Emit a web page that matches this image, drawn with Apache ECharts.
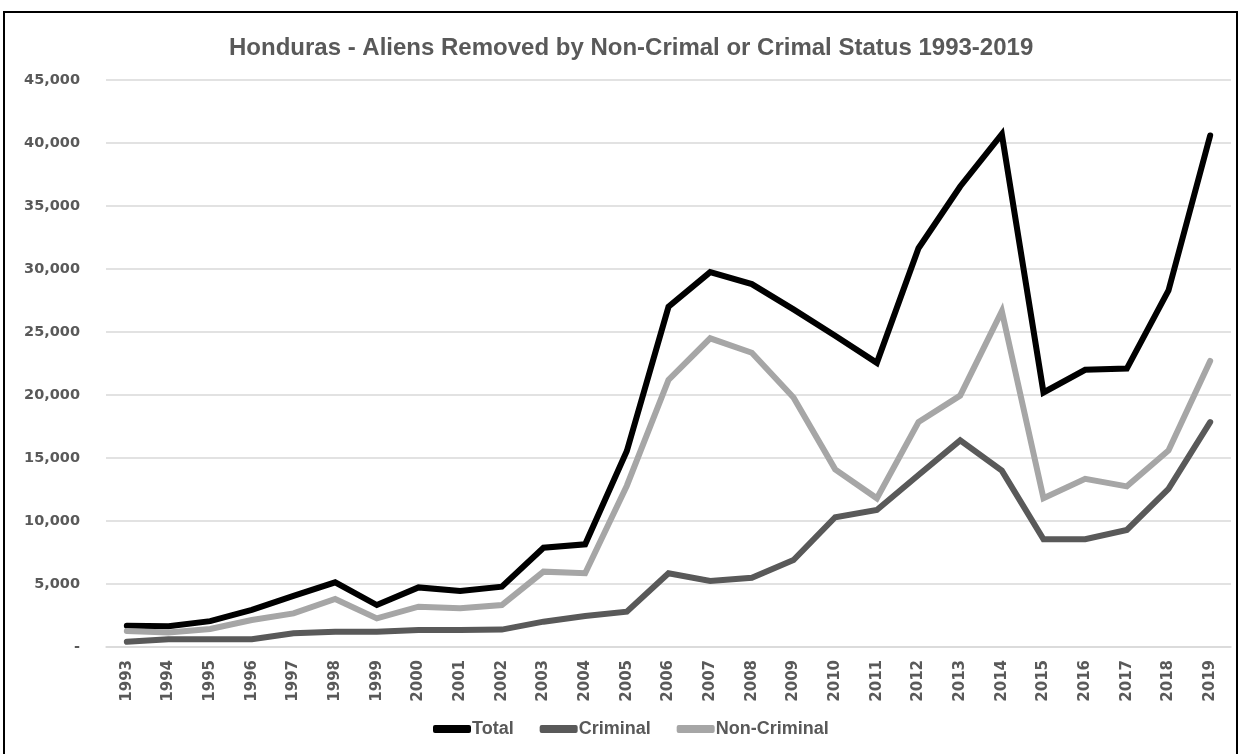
<!DOCTYPE html>
<html>
<head>
<meta charset="utf-8">
<title>Honduras - Aliens Removed</title>
<script src="https://cdn.jsdelivr.net/npm/echarts@6/dist/echarts.min.js"></script>
<style>
  html, body { margin: 0; padding: 0; background: #fff; }
  #chart { width: 1241px; height: 754px; }
</style>
</head>
<body>
<div id="chart"></div>
<script>
// Fiscal years on the category axis
const years = ['1993','1994','1995','1996','1997','1998','1999','2000','2001','2002',
  '2003','2004','2005','2006','2007','2008','2009','2010','2011','2012',
  '2013','2014','2015','2016','2017','2018','2019'];

// Removals per year
const total = [1690, 1650, 2050, 2950, 4050, 5130, 3330, 4730, 4440, 4790,
  7880, 8150, 15550, 27000, 29750, 28800, 26800, 24700, 22550, 31650,
  36550, 40700, 20200, 22000, 22100, 28300, 40600];
const criminal = [420, 610, 610, 610, 1090, 1220, 1220, 1350, 1350, 1380,
  2010, 2460, 2800, 5850, 5240, 5500, 6900, 10300, 10870, 13650,
  16400, 14000, 8550, 8550, 9290, 12550, 17850];
const nonCriminal = [1270, 1160, 1430, 2140, 2670, 3810, 2270, 3200, 3070, 3330,
  5980, 5850, 12800, 21200, 24500, 23350, 19800, 14100, 11800, 17850,
  19950, 26650, 11800, 13350, 12750, 15600, 22700];

// Value axis ticks
const yMin = 0, yMax = 45000, yStep = 5000;

const chart = echarts.init(document.getElementById('chart'), null, { renderer: 'canvas' });

const labelFont = 'DejaVu Sans';
const titleFont = '"Liberation Sans", Arial, sans-serif';
const textGray = '#595959';

function lineSeries(name, data, color) {
  return {
    name: name,
    type: 'line',
    data: data,
    symbol: 'none',
    smooth: false,
    lineStyle: { width: 6, color: color, cap: 'round', join: 'miter' },
    itemStyle: { color: color },
    emphasis: { disabled: true }
  };
}

chart.setOption({
  animation: false,
  backgroundColor: '#fff',
  title: {
    text: 'Honduras - Aliens Removed by Non-Crimal or Crimal Status 1993-2019',
    left: 224,
    top: 31,
    textStyle: { fontFamily: titleFont, fontWeight: 'bold', fontSize: 24, color: textGray }
  },
  legend: {
    bottom: 11,
    left: 428,
    icon: 'roundRect',
    itemWidth: 38,
    itemHeight: 8,
    itemGap: 26,
    textStyle: { fontFamily: titleFont, fontWeight: 'bold', fontSize: 18, color: textGray, padding: [0, 0, 0, -4] },
    data: ['Total', 'Criminal', 'Non-Criminal']
  },
  grid: { left: 106, right: 10, top: 80, bottom: 107, containLabel: false },
  xAxis: {
    type: 'category',
    data: years,
    boundaryGap: true,
    axisLine: { lineStyle: { color: '#d9d9d9', width: 1.5 } },
    axisTick: { alignWithLabel: true, length: 6, lineStyle: { color: '#d9d9d9', width: 1.5 } },
    axisLabel: {
      rotate: 90,
      margin: 13,
      fontFamily: labelFont,
      fontWeight: 'bold',
      fontSize: 15,
      color: textGray,
      interval: 0
    },
    splitLine: { show: false }
  },
  yAxis: {
    type: 'value',
    min: yMin,
    max: yMax,
    interval: yStep,
    axisLine: { show: false },
    axisTick: { show: false },
    splitLine: { lineStyle: { color: '#d9d9d9', width: 1.5 } },
    axisLabel: {
      margin: 26,
      fontFamily: labelFont,
      fontWeight: 'bold',
      fontSize: 14.5,
      color: textGray,
      formatter: function (v) {
        return v === 0 ? '-' : v.toString().replace(/\B(?=(\d{3})+(?!\d))/g, ',');
      }
    }
  },
  graphic: [{
    type: 'rect',
    shape: { x: 4, y: 12, width: 1233, height: 760 },
    style: { fill: 'none', stroke: '#000', lineWidth: 2 },
    silent: true,
    z: 100
  }],
  series: [
    lineSeries('Total', total, '#000000'),
    lineSeries('Criminal', criminal, '#595959'),
    lineSeries('Non-Criminal', nonCriminal, '#a6a6a6')
  ]
});
</script>
</body>
</html>
